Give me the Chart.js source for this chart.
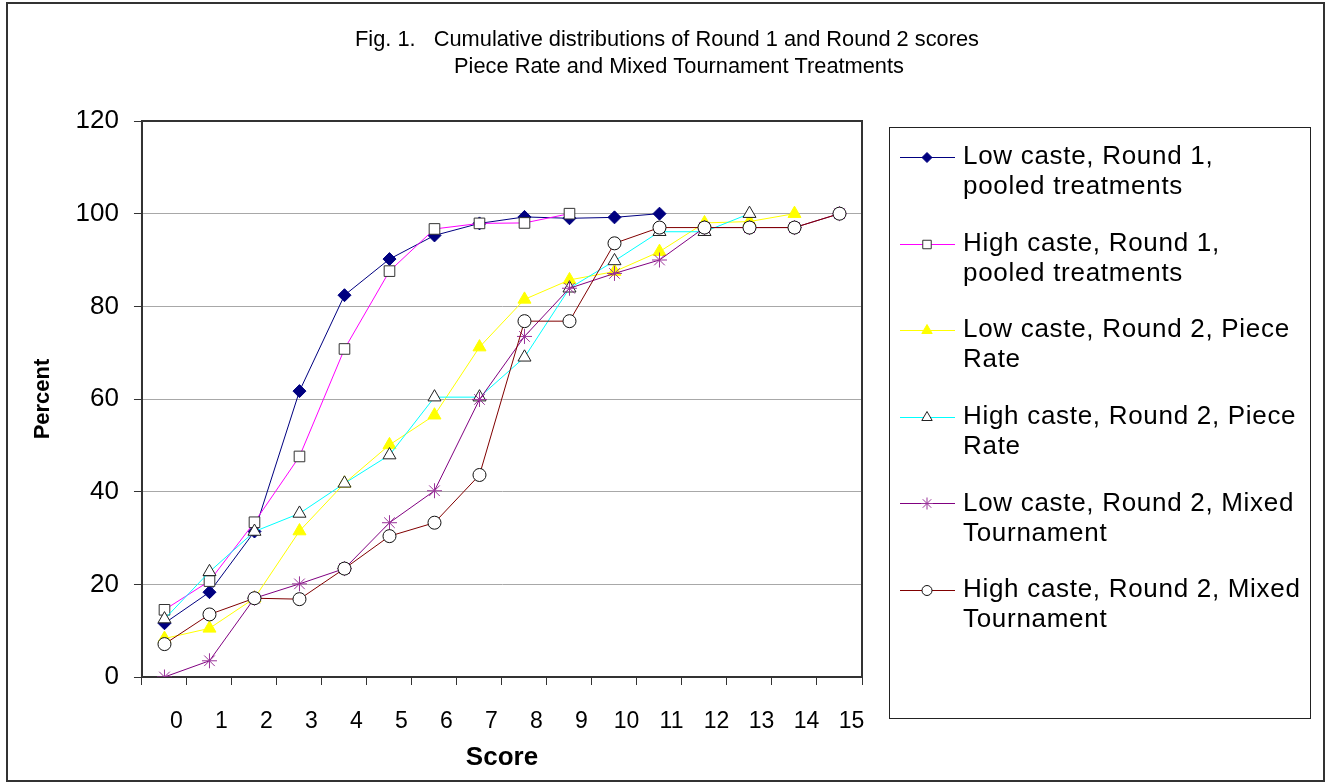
<!DOCTYPE html>
<html>
<head>
<meta charset="utf-8">
<script src="https://cdn.jsdelivr.net/npm/chart.js@4.4.0/dist/chart.umd.min.js"></script>
<style>
html,body{margin:0;padding:0;background:#fff;}
#wrap{position:relative;width:1331px;height:782px;}
</style>
</head>
<body>
<div id="wrap"><canvas id="c" width="1331" height="782"></canvas></div>
<script>
// ---- data ----
const scores = ['0','1','2','3','4','5','6','7','8','9','10','11','12','13','14','15'];
const lowR1    = [11.6, 18.3, 31.4, 61.7, 82.4, 90.2, 95.3, 97.9, 99.3, 99.0, 99.2, 100];
const highR1   = [14.5, 20.7, 33.4, 47.6, 70.8, 87.6, 96.7, 97.9, 98.0, 100];
const lowR2PR  = [8.3, 10.5, 17.0, 31.5, 41.8, 50.1, 56.5, 71.2, 81.5, 85.7, 87.5, 91.8, 98.0, 98.3, 100];
const highR2PR = [12.5, 22.7, 31.4, 35.3, 41.8, 47.9, 60.4, 60.4, 69.0, 83.9, 89.8, 96.1, 96.1, 100];
const lowR2MT  = [0, 3.5, 17.0, 20.1, 23.4, 33.3, 40.2, 59.9, 73.5, 83.9, 87.1, 90.0, 97.0, 97.0, 97.0, 100];
const highR2MT = [7.1, 13.5, 17.0, 16.8, 23.4, 30.4, 33.3, 43.6, 76.8, 76.8, 93.6, 97.0, 97.0, 97.0, 97.0, 100];
const yTicks = [0, 20, 40, 60, 80, 100, 120];
const seriesNames = [
  ['Low caste, Round 1,', 'pooled treatments'],
  ['High caste, Round 1,', 'pooled treatments'],
  ['Low caste, Round 2, Piece', 'Rate'],
  ['High caste, Round 2, Piece', 'Rate'],
  ['Low caste, Round 2, Mixed', 'Tournament'],
  ['High caste, Round 2, Mixed', 'Tournament']
];
const titleLines = ['Fig. 1.   Cumulative distributions of Round 1 and Round 2 scores',
                    'Piece Rate and Mixed Tournament Treatments'];
const xTitle = 'Score';
const yTitle = 'Percent';

// ---- styles ----
const styles = [
  {line:'#000080', style:'rectRot',  r:6.5, fill:'#000080', stroke:'#000080', lr:5},
  {line:'#ff00ff', style:'rect',     r:7.5, fill:'#ffffff', stroke:'#333333', lr:6},
  {line:'#ffff00', style:'triangle', r:7.5, fill:'#ffff00', stroke:'#ffff00', lr:6},
  {line:'#00ffff', style:'triangle', r:7.5, fill:'#ffffff', stroke:'#222222', lr:6},
  {line:'#800080', style:'star',     r:7.5, fill:'#993399', stroke:'#993399', lr:6},
  {line:'#800000', style:'circle',   r:6.5, fill:'#ffffff', stroke:'#111111', lr:5}
];
const seriesData = [lowR1, highR1, lowR2PR, highR2PR, lowR2MT, highR2MT];

Chart.defaults.font.family = "'Liberation Sans', Arial, sans-serif";
Chart.defaults.color = '#000';

const datasets = seriesData.map((d, i) => ({
  label: seriesNames[i].join(' '),
  data: d,
  borderColor: styles[i].line,
  borderWidth: 1,
  pointStyle: styles[i].style,
  pointRadius: styles[i].r,
  pointBackgroundColor: styles[i].fill,
  pointBorderColor: styles[i].stroke,
  pointBorderWidth: 1,
  tension: 0,
  fill: false,
  order: 5 - i
}));

const decor = {
  id: 'decor',
  beforeDraw(chart) {
    const ctx = chart.ctx;
    ctx.save();
    ctx.fillStyle = '#fff';
    ctx.fillRect(0, 0, chart.width, chart.height);
    ctx.restore();
  },
  beforeDatasetsDraw(chart) {
    const {left, top, right, bottom} = chart.chartArea;
    const ctx = chart.ctx;
    ctx.save();
    ctx.strokeStyle = '#333';
    ctx.lineWidth = 2;
    ctx.strokeRect(left, top, right - left, bottom - top);
    ctx.restore();
  },
  afterDraw(chart) {
    const ctx = chart.ctx;
    ctx.save();
    // outer frame
    ctx.strokeStyle = '#333';
    ctx.lineWidth = 2;
    ctx.strokeRect(7, 3, 1317, 778);
    // title
    ctx.fillStyle = '#000';
    ctx.font = "21.8px 'Liberation Sans', Arial, sans-serif";
    ctx.textBaseline = 'middle';
    ctx.textAlign = 'left';
    ctx.fillText(titleLines[0], 355, 40);
    ctx.textAlign = 'center';
    ctx.fillText(titleLines[1], 679, 67);
    // legend box
    ctx.lineWidth = 1;
    ctx.strokeStyle = '#222';
    ctx.strokeRect(889.5, 127.5, 421, 591);
    ctx.textAlign = 'left';
    ctx.font = "26px 'Liberation Sans', Arial, sans-serif";
    if ('letterSpacing' in ctx) ctx.letterSpacing = '0.7px';
    for (let i = 0; i < seriesNames.length; i++) {
      const y = 157 + i * 86.6;
      const s = styles[i];
      ctx.strokeStyle = s.line;
      ctx.lineWidth = 1;
      ctx.beginPath();
      ctx.moveTo(900, Math.round(y) + 0.5);
      ctx.lineTo(955, Math.round(y) + 0.5);
      ctx.stroke();
      ctx.fillStyle = s.fill;
      ctx.strokeStyle = s.stroke;
      Chart.helpers.drawPoint(ctx, {pointStyle: s.style, radius: s.lr, rotation: 0, borderWidth: 1}, 927, Math.round(y) + 0.5);
      ctx.fillStyle = '#000';
      ctx.fillText(seriesNames[i][0], 963, y);
      ctx.fillText(seriesNames[i][1], 963, y + 30);
    }
    ctx.restore();
  }
};

new Chart(document.getElementById('c'), {
  type: 'line',
  data: { labels: scores, datasets },
  options: {
    responsive: false,
    animation: false,
    devicePixelRatio: 1,
    layout: { padding: { left: 10, right: 469, top: 121, bottom: 8.4 } },
    plugins: { legend: { display: false }, title: { display: false }, tooltip: { enabled: false } },
    scales: {
      x: {
        type: 'category',
        offset: true,
        grid: { display: true, drawOnChartArea: false, drawTicks: true, tickLength: 8, tickColor: '#333', offset: true },
        border: { display: true, color: '#333', width: 2 },
        ticks: { font: { size: 23 }, color: '#000', padding: 23, labelOffset: 12, maxRotation: 0, minRotation: 0, autoSkip: false },
        title: { display: true, text: xTitle, font: { size: 26, weight: 'bold' }, color: '#000', padding: { top: -16.2, bottom: 0 } }
      },
      y: {
        min: 0, max: 120,
        afterBuildTicks(scale) { scale.ticks = yTicks.map(v => ({ value: v })); },
        grid: { color: '#a8a8a8', lineWidth: 1, tickLength: 8, tickColor: '#333' },
        border: { display: true, color: '#333', width: 2 },
        ticks: { font: { size: 26 }, color: '#000', padding: 15 },
        title: { display: true, text: yTitle, font: { size: 22, weight: 'bold' }, color: '#000', padding: { top: 19.8, bottom: 4.4 } }
      }
    }
  },
  plugins: [decor]
});
</script>
</body>
</html>
